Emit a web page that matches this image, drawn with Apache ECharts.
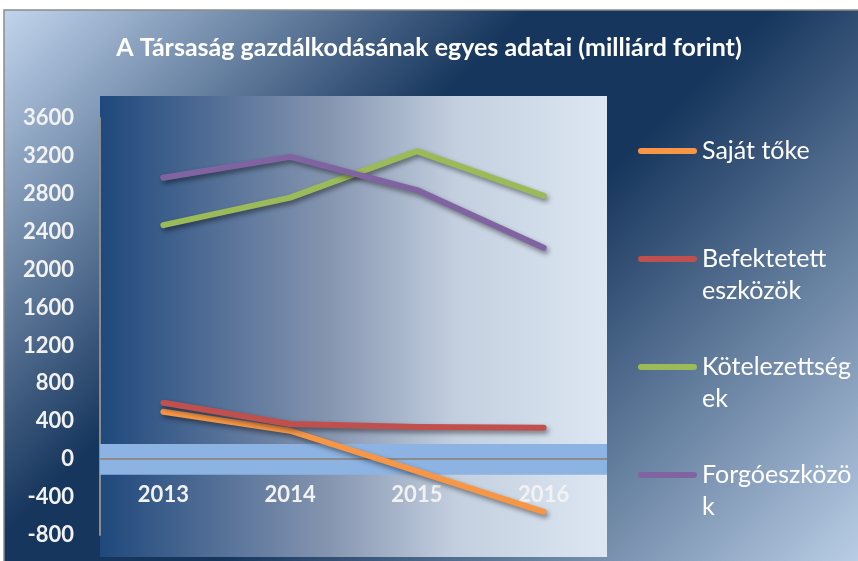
<!DOCTYPE html>
<html><head><meta charset="utf-8">
<script src="https://cdn.jsdelivr.net/npm/echarts@6/dist/echarts.min.js"></script>
<style>html,body{margin:0;padding:0;background:#fff}#c{width:858px;height:561px}</style>
</head><body><div id="c"></div>
<script>
const years = ['2013', '2014', '2015', '2016'];
const sajatToke = [500, 300, -125, -555];
const befektetett = [595, 372, 340, 332];
const kotelezettsegek = [2470, 2760, 3250, 2780];
const forgoeszkozok = [2970, 3190, 2840, 2230];
const seriesNames = ['Saját tőke', 'Befektetett eszközök', 'Kötelezettségek', 'Forgóeszközök'];
const legendLabels = ['Saját tőke', 'Befektetett\neszközök', 'Kötelezettség\nek', 'Forgóeszközö\nk'];
const titleText = 'A Társaság gazdálkodásának egyes adatai (milliárd forint)';
const yMin = -800, yMax = 3600, yStep = 400;

const seriesData = [sajatToke, befektetett, kotelezettsegek, forgoeszkozok];
const colors = ['#f79646', '#c0504d', '#9bbb59', '#8064a2'];
const FONT = 'Lato, "Open Sans", sans-serif';
const capsule = 'path://M3,0 L56,0 A3,3 0 0 1 56,6 L3,6 A3,3 0 0 1 3,0 Z';
const capsuleTall = 'path://M3,0 L56,0 A3,3 0 0 1 56,6 L3,6 A3,3 0 0 1 3,0 Z M29,38 L30,38';

const chart = echarts.init(document.getElementById('c'), null, {renderer: 'canvas'});

const legendTops = [135, 243, 351, 459];
const legends = seriesNames.map((n, i) => {
  const twoLine = legendLabels[i].indexOf('\n') >= 0;
  return {
    data: [n], orient: 'vertical', left: 638, top: legendTops[i], padding: 0,
    selectedMode: false, icon: twoLine ? capsuleTall : capsule,
    itemWidth: 59, itemHeight: twoLine ? 38 : 6,
    itemStyle: {borderWidth: 0},
    formatter: () => legendLabels[i],
    textStyle: {color: '#ffffff', fontFamily: FONT, fontSize: 25, lineHeight: 32}
  };
});

const lineSeries = seriesNames.map((n, i) => ({
  name: n, type: 'line', data: seriesData[i], z: 5, symbol: 'none', smooth: false,
  color: colors[i],
  lineStyle: {color: colors[i], width: 6, cap: 'round', join: 'round',
    shadowColor: 'rgba(0,0,0,0.45)', shadowBlur: 5, shadowOffsetX: 2, shadowOffsetY: 3},
  emphasis: {disabled: true}
}));

const option = {
  backgroundColor: '#ffffff',
  animation: false,
  title: {text: titleText, left: 'center', top: 33, padding: 0,
    textStyle: {color: '#ffffff', fontFamily: FONT, fontWeight: 'bold', fontSize: 25, lineHeight: 30}},
  graphic: [
    {type: 'rect', z: -10, shape: {x: 4, y: 10, width: 860, height: 560},
      style: {stroke: '#8c8c8c', lineWidth: 1.5,
        fill: new echarts.graphic.LinearGradient(0, 0, 710, 710, [
          {offset: 0, color: '#c6d9f1'}, {offset: 0.38, color: '#17365d'},
          {offset: 0.55, color: '#17365d'}, {offset: 1, color: '#b9cde5'}], true)}},
    {type: 'rect', z: -9, shape: {x: 100, y: 96, width: 507, height: 461},
      style: {fill: new echarts.graphic.LinearGradient(0, 0, 1, 0, [
        {offset: 0, color: '#1f487c'}, {offset: 0.45, color: '#8595b0'},
        {offset: 0.7, color: '#c3cfdf'}, {offset: 1, color: '#dde7f3'}])}}
  ],
  legend: legends,
  grid: {left: 100, right: 251, top: 118, bottom: 26, containLabel: false, outerBoundsMode: 'none'},
  xAxis: {type: 'category', data: years, boundaryGap: true,
    axisLine: {show: false, onZero: false},
    axisTick: {show: false},
    axisLabel: {color: '#f2f2f2', fontFamily: FONT, fontWeight: 'bold', fontSize: 22, lineHeight: 22, margin: -51},
    splitLine: {show: false}},
  yAxis: {type: 'value', min: yMin, max: yMax, interval: yStep,
    axisLine: {show: true, lineStyle: {color: '#8c8c8c', width: 2}},
    axisTick: {show: false},
    axisLabel: {color: '#f2f2f2', fontFamily: FONT, fontWeight: 'bold', fontSize: 22, margin: 26,
      formatter: v => String(v)},
    splitLine: {show: false}},
  series: [
    {type: 'line', data: [], z: 1, silent: true,
      markArea: {silent: true, itemStyle: {color: '#8db3e2', opacity: 1},
        data: [[{yAxis: 160}, {yAxis: -165}]]}},
    {type: 'line', data: [], z: 2, silent: true,
      markLine: {silent: true, symbol: 'none', label: {show: false},
        lineStyle: {color: '#8c8c8c', width: 2, type: 'solid'},
        data: [{yAxis: 0}]}}
  ].concat(lineSeries)
};
chart.setOption(option);
</script></body></html>
